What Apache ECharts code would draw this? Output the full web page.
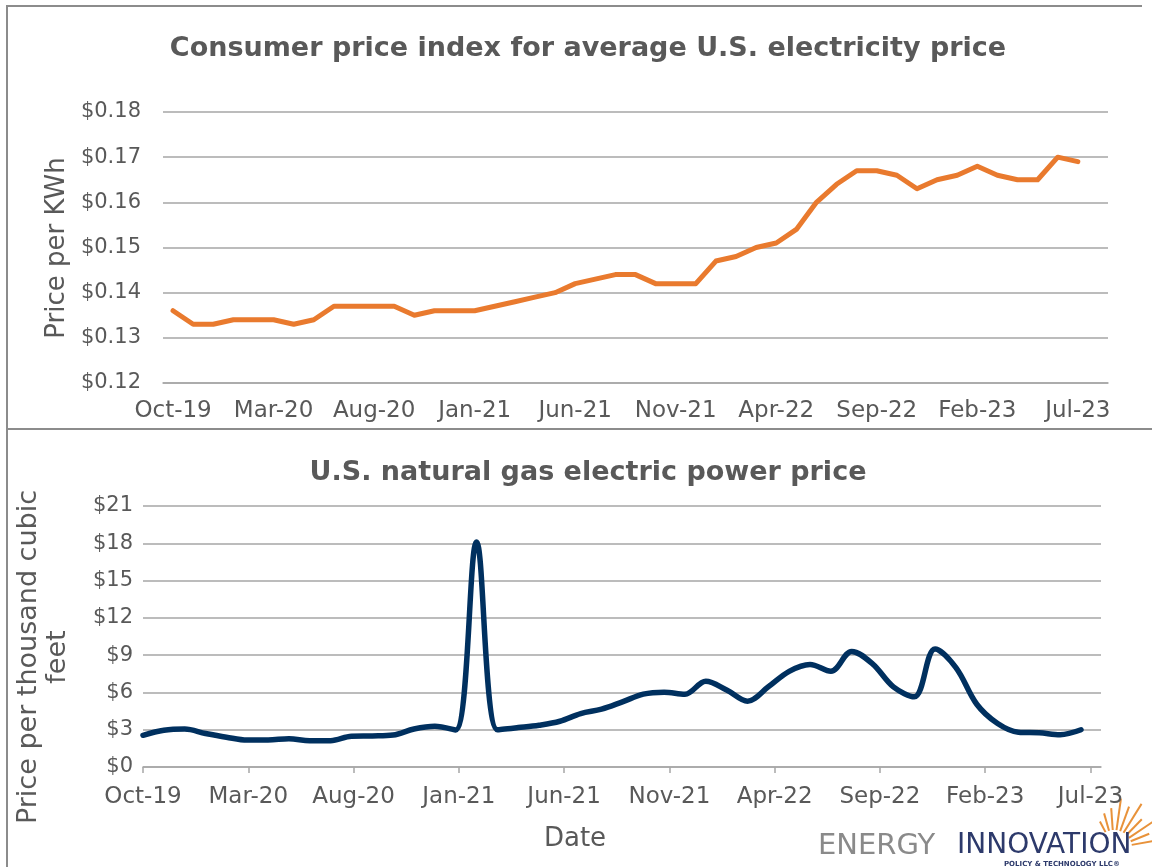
<!DOCTYPE html>
<html>
<head>
<meta charset="utf-8">
<script src="https://cdn.jsdelivr.net/npm/echarts@6/dist/echarts.min.js"></script>
<style>
  html, body { margin: 0; padding: 0; background: #fff; }
  #main { width: 1152px; height: 867px; }
</style>
</head>
<body>
<div id="main"></div>
<script>
// months on the electricity axis (last one is an empty slot, like the original)
const months = [
  'Oct-19', 'Nov-19', 'Dec-19',
  'Jan-20', 'Feb-20', 'Mar-20', 'Apr-20', 'May-20', 'Jun-20', 'Jul-20', 'Aug-20', 'Sep-20', 'Oct-20', 'Nov-20', 'Dec-20',
  'Jan-21', 'Feb-21', 'Mar-21', 'Apr-21', 'May-21', 'Jun-21', 'Jul-21', 'Aug-21', 'Sep-21', 'Oct-21', 'Nov-21', 'Dec-21',
  'Jan-22', 'Feb-22', 'Mar-22', 'Apr-22', 'May-22', 'Jun-22', 'Jul-22', 'Aug-22', 'Sep-22', 'Oct-22', 'Nov-22', 'Dec-22',
  'Jan-23', 'Feb-23', 'Mar-23', 'Apr-23', 'May-23', 'Jun-23', 'Jul-23', 'Aug-23'
];
const gasMonths = months.slice(0, 46);

// $ per kWh
const elecPrice = [
  0.136, 0.133, 0.133, 0.134, 0.134, 0.134, 0.133, 0.134, 0.137, 0.137,
  0.137, 0.137, 0.135, 0.136, 0.136, 0.136, 0.137, 0.138, 0.139, 0.140,
  0.142, 0.143, 0.144, 0.144, 0.142, 0.142, 0.142, 0.147, 0.148, 0.150,
  0.151, 0.154, 0.160, 0.164, 0.167, 0.167, 0.166, 0.163, 0.165, 0.166,
  0.168, 0.166, 0.165, 0.165, 0.170, 0.169
];

// $ per thousand cubic feet
const gasPrice = [
  2.55, 2.95, 3.05, 2.70, 2.40, 2.17, 2.17, 2.28, 2.12, 2.12,
  2.47, 2.50, 2.57, 3.06, 3.28, 2.98, 18.1, 3.00, 3.17, 3.36,
  3.68, 4.30, 4.65, 5.24, 5.86, 6.02, 5.86, 6.90, 6.20, 5.30,
  6.45, 7.70, 8.25, 7.70, 9.30, 8.30, 6.45, 5.65, 9.50, 8.00,
  5.05, 3.50, 2.80, 2.75, 2.60, 3.00
];

const gasTickLabels = ['Oct-19', 'Mar-20', 'Aug-20', 'Jan-21', 'Jun-21', 'Nov-21', 'Apr-22', 'Sep-22', 'Feb-23', 'Jul-23'];
const gasTickValues = gasTickLabels.map((_, i) => i * 5);

const FONT = 'DejaVu Sans';
const TXT = '#595959';
const GRID_C = '#a6a6a6';

const chart = echarts.init(document.getElementById('main'));

const yLabelStyle = { color: TXT, fontFamily: FONT, fontSize: 21 };
const xLabelStyle = { color: TXT, fontFamily: FONT, fontSize: 23 };

// sun rays for the logo
const rays = [];
const rayAngles = [10, 22, 34, 46, 58, 70, 82, 94, 106, 118];
const rayLen = [44, 38, 48, 40, 52, 44, 50, 40, 36, 30];
rayAngles.forEach((a, i) => {
  const r = a * Math.PI / 180;
  const cx = 1114, cy = 848;
  rays.push({
    type: 'line',
    shape: {
      x1: cx + Math.cos(r) * 18, y1: cy - Math.sin(r) * 18,
      x2: cx + Math.cos(r) * rayLen[i], y2: cy - Math.sin(r) * rayLen[i]
    },
    style: { stroke: '#e8923a', lineWidth: 2 }
  });
});

chart.setOption({
  animation: false,
  backgroundColor: '#fff',
  title: [
    {
      text: 'Consumer price index for average U.S. electricity price',
      left: 583, top: 30, textAlign: 'center',
      textStyle: { color: TXT, fontFamily: FONT, fontWeight: 'bold', fontSize: 27 }
    },
    {
      text: 'U.S. natural gas electric power price',
      left: 583, top: 454, textAlign: 'center',
      textStyle: { color: TXT, fontFamily: FONT, fontWeight: 'bold', fontSize: 27 }
    }
  ],
  grid: [
    { left: 163, top: 112, width: 945, height: 271 },
    { left: 143, top: 506, width: 958, height: 261 },
    { left: 143, top: 506, width: 938, height: 261 }
  ],
  xAxis: [
    {
      type: 'category', gridIndex: 0, data: months, boundaryGap: true,
      axisLine: { lineStyle: { color: GRID_C, width: 1.5 } },
      axisTick: { interval: 4, length: 6, lineStyle: { color: GRID_C, width: 1.5 } },
      axisLabel: Object.assign({ interval: 4, margin: 17 }, xLabelStyle)
    },
    {
      type: 'value', gridIndex: 1, min: 0, max: 45.5,
      splitLine: { show: false },
      axisLine: { lineStyle: { color: GRID_C, width: 1.5 } },
      axisTick: { show: true, customValues: gasTickValues, length: 6, lineStyle: { color: GRID_C, width: 1.5 } },
      axisLabel: Object.assign({
        customValues: gasTickValues, margin: 19,
        formatter: (v) => gasTickLabels[Math.round(v / 5)]
      }, xLabelStyle)
    },
    {
      type: 'category', gridIndex: 2, data: gasMonths, boundaryGap: false, show: false
    }
  ],
  yAxis: [
    {
      type: 'value', gridIndex: 0, min: 0.12, max: 0.18, interval: 0.01,
      axisLine: { show: false }, axisTick: { show: false },
      splitLine: { lineStyle: { color: GRID_C, width: 1.5 } },
      axisLabel: Object.assign({ margin: 22, formatter: (v) => '$' + v.toFixed(2) }, yLabelStyle)
    },
    {
      type: 'value', gridIndex: 1, min: 0, max: 21, interval: 3,
      axisLine: { show: false }, axisTick: { show: false },
      splitLine: { lineStyle: { color: GRID_C, width: 1.5 } },
      axisLabel: Object.assign({ margin: 10, formatter: (v) => '$' + v }, yLabelStyle)
    },
    {
      type: 'value', gridIndex: 2, min: 0, max: 21, show: false, splitLine: { show: false }
    }
  ],
  series: [
    {
      name: 'Electricity price', type: 'line', xAxisIndex: 0, yAxisIndex: 0,
      data: elecPrice, symbol: 'none',
      lineStyle: { color: '#e97a2e', width: 5, cap: 'round', join: 'round' }
    },
    {
      name: 'Natural gas price', type: 'line', xAxisIndex: 2, yAxisIndex: 2,
      data: gasPrice, symbol: 'none', smooth: 0.35,
      lineStyle: { color: '#00305f', width: 5.5, cap: 'round', join: 'round' }
    }
  ],
  graphic: [
    // panel frames
    { type: 'polyline', shape: { points: [[7, 867], [7, 6], [1142, 6]] }, style: { stroke: '#8c8c8c', lineWidth: 2, fill: null } },
    { type: 'line', shape: { x1: 7, y1: 429, x2: 1152, y2: 429 }, style: { stroke: '#8c8c8c', lineWidth: 2 } },
    // axis names
    {
      type: 'text', x: 57, y: 248, rotation: Math.PI / 2,
      style: { text: 'Price per KWh', fill: TXT, font: '26px "DejaVu Sans"', align: 'center', verticalAlign: 'middle' }
    },
    {
      type: 'text', x: 43, y: 657, rotation: Math.PI / 2,
      style: { text: 'Price per thousand cubic\nfeet', fill: TXT, font: '27px "DejaVu Sans"', align: 'center', verticalAlign: 'middle', lineHeight: 29 }
    },
    {
      type: 'text', x: 575, y: 839,
      style: { text: 'Date', fill: TXT, font: '26px "DejaVu Sans"', align: 'center', verticalAlign: 'middle' }
    }
  ].concat(rays).concat([
    // logo text
    {
      type: 'text', x: 818, y: 846,
      style: { text: 'ENERGY', fill: '#8a8a8a', font: '29px "DejaVu Sans"', align: 'left', verticalAlign: 'middle' }
    },
    {
      type: 'text', x: 957, y: 846,
      style: { text: 'INNOVATION', fill: '#2d3a6b', font: '28px "DejaVu Sans"', align: 'left', verticalAlign: 'middle' }
    },
    {
      type: 'text', x: 1120, y: 864,
      style: { text: 'POLICY & TECHNOLOGY LLC®', fill: '#2d3a6b', font: 'bold 7px "DejaVu Sans"', align: 'right', verticalAlign: 'middle' }
    }
  ])
});
</script>
</body>
</html>
